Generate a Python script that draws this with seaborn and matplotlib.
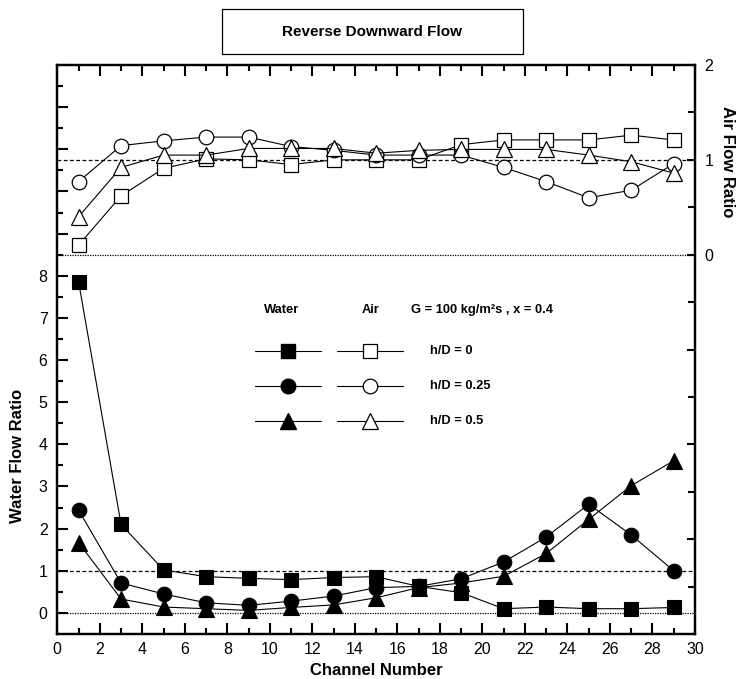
import matplotlib
matplotlib.use("Agg")
import matplotlib.pyplot as plt
from matplotlib.lines import Line2D
from matplotlib.patches import Rectangle
from matplotlib.ticker import MultipleLocator, FixedLocator, FuncFormatter
import seaborn as sns

# ---------------- data ----------------
channels = [1, 3, 5, 7, 9, 11, 13, 15, 17, 19, 21, 23, 25, 27, 29]

water_h0   = [7.86, 2.10, 1.02, 0.86, 0.82, 0.79, 0.84, 0.86, 0.63, 0.48, 0.10, 0.14, 0.10, 0.10, 0.13]
water_h025 = [2.44, 0.71, 0.45, 0.24, 0.18, 0.28, 0.40, 0.60, 0.63, 0.81, 1.21, 1.80, 2.58, 1.85, 1.00]
water_h05  = [1.67, 0.33, 0.14, 0.10, 0.06, 0.13, 0.19, 0.36, 0.60, 0.71, 0.87, 1.41, 2.22, 3.02, 3.61]

air_h0   = [0.10, 0.62, 0.91, 1.01, 1.00, 0.95, 1.00, 1.00, 1.00, 1.16, 1.21, 1.21, 1.21, 1.26, 1.21]
air_h025 = [0.77, 1.15, 1.20, 1.24, 1.24, 1.14, 1.10, 1.05, 1.05, 1.05, 0.92, 0.77, 0.60, 0.68, 0.96]
air_h05  = [0.40, 0.92, 1.05, 1.05, 1.12, 1.12, 1.12, 1.07, 1.10, 1.11, 1.11, 1.11, 1.05, 0.98, 0.86]

series_labels = ["h/D = 0", "h/D = 0.25", "h/D = 0.5"]
water_tick_labels = [0, 1, 2, 3, 4, 5, 6, 7, 8]
air_tick_labels = [0, 1, 2]

# ---------------- style ----------------
sns.set_theme(style="white")
plt.rcParams["font.family"] = ["Liberation Sans", "DejaVu Sans"]
plt.rcParams["text.color"] = "black"
plt.rcParams["axes.labelcolor"] = "black"
plt.rcParams["xtick.color"] = "black"
plt.rcParams["ytick.color"] = "black"

W, H = 746, 679
fig = plt.figure(figsize=(W / 100, H / 100), dpi=100)
x0, x1, ytop, ybot = 57.3, 695.0, 65.0, 634.0
ax = fig.add_axes([x0 / W, 1 - ybot / H, (x1 - x0) / W, (ybot - ytop) / H])
ax2 = ax.twinx()

markers = ["s", "o", "^"]
msizes = [9.5, 10.5, 11]
water = [water_h0, water_h025, water_h05]
air = [air_h0, air_h025, air_h05]

for w, m, ms in zip(water, markers, msizes):
    sns.lineplot(x=channels, y=w, ax=ax, color="black", marker=m, markersize=ms,
                 markerfacecolor="black", markeredgecolor="black", markeredgewidth=0.8,
                 linewidth=0.8, estimator=None, sort=False, zorder=3)
for a, m, ms in zip(air, markers, msizes):
    sns.lineplot(x=channels, y=a, ax=ax2, color="black", marker=m, markersize=ms,
                 markerfacecolor="white", markeredgecolor="black", markeredgewidth=0.9,
                 linewidth=0.8, estimator=None, sort=False, zorder=3)

# reference lines
ax.axhline(1, color="black", lw=0.9, ls=(0, (3, 2)), zorder=1)
ax.axhline(0, color="black", lw=0.9, ls=(0, (1, 1)), zorder=1)
ax2.axhline(1, color="black", lw=0.9, ls=(0, (3, 2)), zorder=1)
ax2.axhline(0, color="black", lw=0.9, ls=(0, (1, 1)), zorder=1)

ax.set_xlim(0, 30)
ax.set_ylim(-0.5, 13)
ax2.set_ylim(-4, 2)

# ticks
ax.xaxis.set_major_locator(MultipleLocator(2))
ax.xaxis.set_minor_locator(MultipleLocator(1))
ax.yaxis.set_major_locator(FixedLocator(list(range(0, 14))))
ax.yaxis.set_minor_locator(FixedLocator([v + 0.5 for v in range(0, 13)]))
ax.yaxis.set_major_formatter(FuncFormatter(lambda v, p: f"{int(v)}" if int(round(v)) in water_tick_labels else ""))
ax2.yaxis.set_major_locator(FixedLocator([-3, -2, -1, 0, 1, 2]))
ax2.yaxis.set_minor_locator(FixedLocator([-3.5, -2.5, -1.5, -0.5, 0.5, 1.5]))
ax2.yaxis.set_major_formatter(FuncFormatter(lambda v, p: f"{int(v)}" if int(round(v)) in air_tick_labels else ""))

for a_ in (ax, ax2):
    for s in a_.spines.values():
        s.set_linewidth(1.6)
        s.set_color("black")
ax.tick_params(axis="x", which="both", direction="in", top=True, bottom=True, width=1.5,
               labelsize=11.5, pad=6, colors="black")
ax.tick_params(axis="x", which="major", length=8)
ax.tick_params(axis="x", which="minor", length=4.5)
ax.tick_params(axis="y", which="both", direction="in", left=True, right=False, width=1.5,
               labelsize=11.5, pad=7, colors="black")
ax.tick_params(axis="y", which="major", length=8)
ax.tick_params(axis="y", which="minor", length=4.5)
ax2.tick_params(axis="y", which="both", direction="in", right=True, left=False, width=1.5,
                labelsize=11.5, pad=7, colors="black")
ax2.tick_params(axis="y", which="major", length=6)
ax2.tick_params(axis="y", which="minor", length=5)

ax.set_xlabel("Channel Number", fontsize=12, fontweight="bold", labelpad=4, color="black")
ax.set_ylabel("Water Flow Ratio", fontsize=12, fontweight="bold", color="black")
ax.yaxis.set_label_coords(-0.05, 0.313)
ax2.set_ylabel("Air Flow Ratio", fontsize=12, fontweight="bold", rotation=-90, color="black")
ax2.yaxis.set_label_coords(1.062, 0.83)

# title box
bx0, bx1, by0, by1 = 222, 523, 9, 54
fig.add_artist(Rectangle((bx0 / W, 1 - by1 / H), (bx1 - bx0) / W, (by1 - by0) / H,
                         transform=fig.transFigure, fill=False, edgecolor="black", lw=0.9))
fig.text((bx0 + bx1) / 2 / W, 1 - 31.5 / H, "Reverse Downward Flow", ha="center", va="center",
         fontsize=11, fontweight="bold", color="black")

# custom legend
def fx(px):
    return px / W

def fy(py):
    return 1 - py / H

fig.text(fx(282), fy(310), "Water", ha="center", va="center", fontsize=9.3, fontweight="bold")
fig.text(fx(371), fy(310), "Air", ha="center", va="center", fontsize=9.3, fontweight="bold")
fig.text(fx(411), fy(310), "G = 100 kg/m²s , x = 0.4", ha="left", va="center", fontsize=9.3,
         fontweight="bold")
rows = [351, 386, 421]
for ry, m, ms, lab in zip(rows, markers, msizes, series_labels):
    fig.add_artist(Line2D([fx(255), fx(321)], [fy(ry), fy(ry)], transform=fig.transFigure,
                          color="black", lw=0.8))
    fig.add_artist(Line2D([fx(288)], [fy(ry)], transform=fig.transFigure, marker=m, markersize=ms,
                          markerfacecolor="black", markeredgecolor="black", lw=0))
    fig.add_artist(Line2D([fx(337), fx(403)], [fy(ry), fy(ry)], transform=fig.transFigure,
                          color="black", lw=0.8))
    fig.add_artist(Line2D([fx(370)], [fy(ry)], transform=fig.transFigure, marker=m, markersize=ms,
                          markerfacecolor="white", markeredgecolor="black", markeredgewidth=0.9, lw=0))
    fig.text(fx(430), fy(ry), lab, ha="left", va="center", fontsize=9.3, fontweight="bold")

fig.savefig("out.png", dpi=100)
